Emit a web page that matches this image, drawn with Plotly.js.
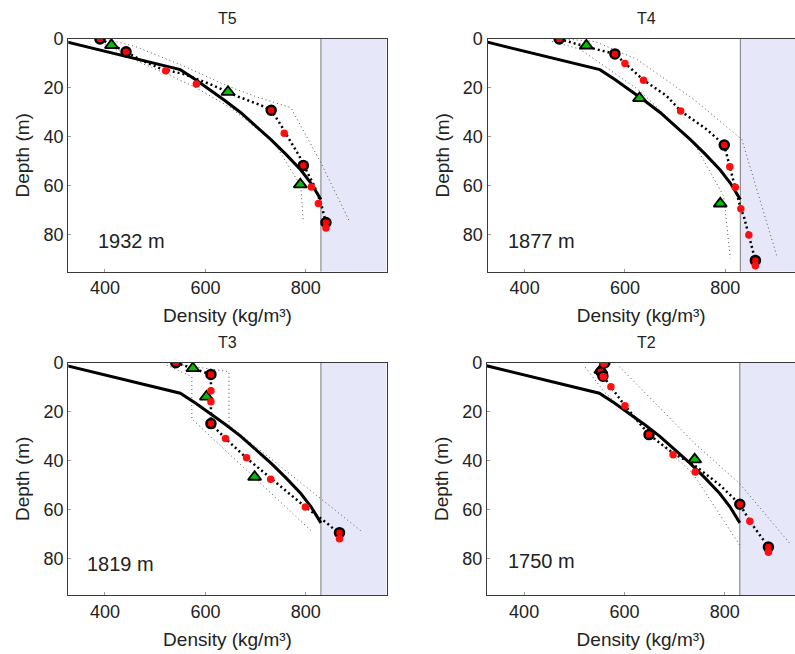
<!DOCTYPE html>
<html>
<head>
<meta charset="utf-8">
<script src="https://cdn.plot.ly/plotly-3.0.1.min.js"></script>
<style>
html,body{margin:0;padding:0;background:#fff;}
#chart{width:795px;height:654px;}
</style>
</head>
<body>
<div id="chart"></div>
<script>
// ---------- DATA ----------
var panelNames = ["T5", "T4", "T3", "T2"];
var siteLabels = ["1932 m", "1877 m", "1819 m", "1750 m"];
var xTickVals = [400, 600, 800];
var yTickVals = [0, 20, 40, 60, 80];
var iceDensity = 830;

// model (solid curve), same in every panel
var modelDensity = [300, 550, 580, 610, 640, 670, 700, 730, 760, 790, 810, 830];
var modelDepth   = [0, 12.5, 16.5, 20.8, 25.3, 30, 35.5, 41, 47, 53.5, 58.8, 65.5];

// T5
var t5CircleDensity = [390, 442, 731, 795, 840];
var t5CircleDepth   = [0, 5.2, 29.1, 51.6, 74.9];
var t5DotDensity = [521, 582, 757, 811, 825, 840];
var t5DotDepth   = [13, 18.4, 38.5, 60.4, 67.2, 77.2];
var t5TriDensity = [413, 645, 789];
var t5TriDepth   = [2.5, 21.6, 59.4];
var t5FitDensity = [390, 442, 470, 510, 560, 610, 665, 710, 731, 750, 770, 787, 800, 817, 830, 840];
var t5FitDepth   = [0, 5.2, 8.5, 12, 14.5, 18.5, 23.5, 27, 29.1, 35, 42, 47.8, 53.3, 60, 67, 75];
var t5UpperDensity = [400, 460, 563, 643, 700, 770, 830, 887];
var t5UpperDepth   = [0, 3, 11.6, 19.1, 23.5, 28, 50.5, 74.5];
var t5LowerDensity = [385, 430, 470, 520, 577, 650, 737, 790, 795];
var t5LowerDepth   = [1, 5, 9.6, 14, 19.4, 28, 42.3, 60, 74.9];

// T4
var t4CircleDensity = [469, 580, 798, 860];
var t4CircleDepth   = [0, 6.1, 43.3, 90.4];
var t4DotDensity = [600, 637, 711, 809, 820, 831, 847, 860];
var t4DotDepth   = [10, 16.8, 29.4, 52.2, 60.5, 69.3, 80, 92.6];
var t4TriDensity = [523, 629, 790];
var t4TriDepth   = [2.7, 24.2, 67.2];
var t4FitDensity = [469, 520, 580, 600, 637, 683, 711, 763, 798, 809, 817, 831, 837, 850, 860];
var t4FitDepth   = [0, 3, 6.1, 10, 16.8, 23.2, 29.4, 36.9, 43.3, 52.2, 58.7, 69.3, 72.4, 82, 90.4];
var t4UpperDensity = [480, 540, 623, 737, 833, 903];
var t4UpperDepth   = [0, 1, 8.2, 24.6, 41, 88.8];
var t4LowerDensity = [455, 510, 630, 737, 797, 810];
var t4LowerDepth   = [1, 4.1, 21.2, 42.3, 64.2, 89.5];

// T3
var t3CircleDensity = [541, 611, 611, 867];
var t3CircleDepth   = [0, 4.8, 24.9, 69.5];
var t3DotDensity = [611, 611, 640, 682, 730, 799, 867];
var t3DotDepth   = [11.5, 16, 31, 38.9, 47.7, 59, 72];
var t3TriDensity = [575, 602, 698];
var t3TriDepth   = [2.3, 13.9, 46.7];
var t3FitDensity = [541, 611, 611, 640, 682, 720, 760, 799, 843, 867];
var t3FitDepth   = [0, 4.8, 25, 31, 39, 45.5, 52.5, 59, 65.8, 70];
var t3UpperDensity = [523, 647, 647, 913];
var t3UpperDepth   = [0, 3.7, 25.6, 69.3];
var t3LowerDensity = [523, 573, 573, 810];
var t3LowerDepth   = [1, 5.7, 23, 68.6];

// T2
var t2CircleDensity = [561, 553, 557, 649, 830, 887];
var t2CircleDepth   = [0, 3.7, 5.5, 29.4, 57.9, 75.4];
var t2DotDensity = [559, 558, 573, 601, 697, 741, 850, 887];
var t2DotDepth   = [0.3, 5.7, 9.8, 17.6, 37.6, 44.7, 64.8, 77.5];
var t2TriDensity = [553, 740];
var t2TriDepth   = [3, 39.6];
var t2FitDensity = [561, 553, 558, 573, 601, 649, 697, 740, 790, 830, 850, 887];
var t2FitDepth   = [0, 3.7, 5.7, 9.8, 17.6, 29.4, 37, 42, 50, 57.9, 64.8, 75.4];
var t2UpperDensity = [590, 650, 740, 830, 930];
var t2UpperDepth   = [1.6, 14, 33, 49.5, 74];
var t2LowerDensity = [522, 560, 643, 737, 830];
var t2LowerDepth   = [1.9, 12, 27.6, 45.4, 74.7];

// ---------- BUILD ----------
var panels = [
  {c:[t5CircleDensity,t5CircleDepth], d:[t5DotDensity,t5DotDepth], t:[t5TriDensity,t5TriDepth], f:[t5FitDensity,t5FitDepth], u:[t5UpperDensity,t5UpperDepth], l:[t5LowerDensity,t5LowerDepth]},
  {c:[t4CircleDensity,t4CircleDepth], d:[t4DotDensity,t4DotDepth], t:[t4TriDensity,t4TriDepth], f:[t4FitDensity,t4FitDepth], u:[t4UpperDensity,t4UpperDepth], l:[t4LowerDensity,t4LowerDepth]},
  {c:[t3CircleDensity,t3CircleDepth], d:[t3DotDensity,t3DotDepth], t:[t3TriDensity,t3TriDepth], f:[t3FitDensity,t3FitDepth], u:[t3UpperDensity,t3UpperDepth], l:[t3LowerDensity,t3LowerDepth]},
  {c:[t2CircleDensity,t2CircleDepth], d:[t2DotDensity,t2DotDepth], t:[t2TriDensity,t2TriDepth], f:[t2FitDensity,t2FitDepth], u:[t2UpperDensity,t2UpperDepth], l:[t2LowerDensity,t2LowerDepth]}
];

var W = 795, H = 654;
// pixel boxes of each plot area [left, right, top, bottom]
var boxes = [[68.3, 386.7, 39, 271.7], [487.5, 795, 39, 271.7], [68.3, 386.7, 362.7, 595], [487, 795, 362.7, 595]];
var xRanges = [[327, 961], [326, 939], [327, 961], [326, 940]];
var depthRange = [95, 0];

var traces = [];
var layout = {
  width: W, height: H,
  margin: {l:0, r:0, t:0, b:0},
  paper_bgcolor: '#fff', plot_bgcolor: '#fff',
  showlegend: false,
  font: {family: 'Liberation Sans, Arial, sans-serif', color: '#222', size: 18},
  shapes: [], annotations: []
};

panels.forEach(function(p, i){
  var n = i + 1;
  var xa = 'x' + (n === 1 ? '' : n), ya = 'y' + (n === 1 ? '' : n);
  var xk = 'xaxis' + (n === 1 ? '' : n), yk = 'yaxis' + (n === 1 ? '' : n);
  var b = boxes[i];
  var right = (i % 2 === 1);
  layout[xk] = {
    domain: [b[0] / W, b[1] / W], anchor: ya, range: xRanges[i],
    showline: true, linecolor: '#3a3a3a', linewidth: 1.3, mirror: true,
    ticks: 'inside', ticklen: 3, tickcolor: '#999', tickwidth: 1,
    tickvals: xTickVals, showgrid: false, zeroline: false,
    tickfont: {size: 18, color: '#222'},
    title: {text: 'Density (kg/m³)', font: {size: 19, color: '#222'}, standoff: 11}
  };
  layout[yk] = {
    domain: [1 - b[3] / H, 1 - b[2] / H], anchor: xa, range: depthRange,
    showline: true, linecolor: '#3a3a3a', linewidth: 1.3, mirror: !right,
    ticks: 'inside', ticklen: 3, tickcolor: '#999', tickwidth: 1,
    tickvals: yTickVals, showgrid: false, zeroline: false,
    tickfont: {size: 18, color: '#222'},
    title: {text: 'Depth (m)', font: {size: 19, color: '#222'}, standoff: 8}
  };
  // ice shading and its edge
  layout.shapes.push({type:'rect', xref:xa, yref:ya, x0:iceDensity, x1:xRanges[i][1], y0:depthRange[1], y1:depthRange[0],
    fillcolor:'#e6e8fa', line:{width:0}, layer:'below'});
  layout.shapes.push({type:'line', xref:xa, yref:ya, x0:iceDensity, x1:iceDensity, y0:depthRange[1], y1:depthRange[0],
    line:{color:'#7a7a7a', width:1}, layer:'below'});
  // panel title
  layout.annotations.push({xref:'paper', yref:'paper', x:((b[0] + (right ? b[0] + 318.4 : b[1])) / 2) / W, y:1 - (b[2] - 20.5) / H,
    text:panelNames[i], showarrow:false, xanchor:'center', yanchor:'middle', font:{size:16, color:'#222'}});
  // site label
  layout.annotations.push({xref:xa, yref:ya, x:(right ? 434 : (i === 0 ? 453 : 431)), y:(i === 3 ? 81 : 82.5),
    text:siteLabels[i], showarrow:false, xanchor:'center', yanchor:'middle', font:{size:20, color:'#222'}});

  var common = {xaxis:xa, yaxis:ya, hoverinfo:'skip'};
  function add(o){ traces.push(Object.assign({}, common, o)); }
  add({x:p.u[0], y:p.u[1], mode:'lines', line:{color:'#555', width:1, dash:'1px,3px'}});
  add({x:p.l[0], y:p.l[1], mode:'lines', line:{color:'#555', width:1, dash:'1px,3px'}});
  add({x:modelDensity, y:modelDepth, mode:'lines', line:{color:'#000', width:3}});
  add({x:p.f[0], y:p.f[1], mode:'lines', line:{color:'#000', width:2.5, dash:'2px,3px'}});
  add({x:p.t[0], y:p.t[1], mode:'markers', marker:{symbol:'triangle-up', size:11.5, color:'#00c000', line:{color:'#000', width:1.8}}});
  add({x:p.c[0], y:p.c[1], mode:'markers', marker:{symbol:'circle', size:9, color:'#ff0000', line:{color:'#000', width:2.5}}});
  add({x:p.d[0], y:p.d[1], mode:'markers', marker:{symbol:'circle', size:7.5, color:'#ff1010', line:{width:0}}});
});

Plotly.newPlot('chart', traces, layout, {displayModeBar:false});
</script>
</body>
</html>
